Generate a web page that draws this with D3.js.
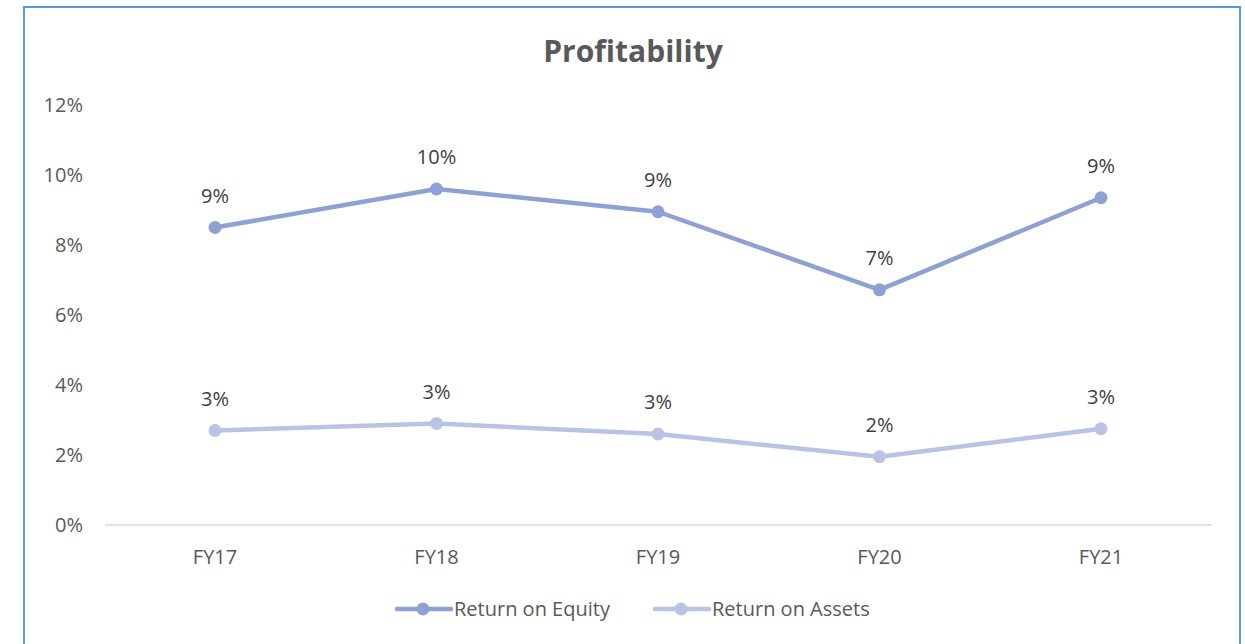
<!DOCTYPE html>
<html>
<head>
<meta charset="utf-8">
<script src="https://cdn.jsdelivr.net/npm/d3@7.9.0/dist/d3.min.js"></script>
<style>
  body { margin: 0; background: #fff; }
  svg { display: block; font-family: "Open Sans", "Noto Sans", sans-serif; }
</style>
</head>
<body>
<svg id="chart" width="1245" height="644"></svg>
<script>
// Chart data
const years = ['FY17', 'FY18', 'FY19', 'FY20', 'FY21'];
const roe = [8.5, 9.6, 8.95, 6.72, 9.35];
const roa = [2.7, 2.9, 2.6, 1.95, 2.75];
const roeLabels = ['9%', '10%', '9%', '7%', '9%'];
const roaLabels = ['3%', '3%', '3%', '2%', '3%'];
const yTicks = [0, 2, 4, 6, 8, 10, 12];

const series = [
  { name: 'Return on Equity', values: roe, labels: roeLabels, color: '#8ea1d4' },
  { name: 'Return on Assets', values: roa, labels: roaLabels, color: '#b9c3e3' }
];

const fontSize = 20;

const svg = d3.select('#chart');

// Outer frame
svg.append('rect')
  .attr('x', 24).attr('y', 7)
  .attr('width', 1216).attr('height', 660)
  .attr('fill', 'none')
  .attr('stroke', '#5b9bd5')
  .attr('stroke-width', 2);

// Title
svg.append('text')
  .attr('x', 633).attr('y', 62)
  .attr('text-anchor', 'middle')
  .attr('font-size', 30)
  .attr('font-weight', 'bold')
  .attr('fill', '#595959')
  .text('Profitability');

const x = d3.scalePoint().domain(years).range([215, 1101]);
const y = d3.scaleLinear().domain([0, 12]).range([525, 105]);

// Y tick labels
svg.append('g')
  .selectAll('text')
  .data(yTicks)
  .join('text')
  .attr('x', 83)
  .attr('y', d => y(d) + 7)
  .attr('text-anchor', 'end')
  .attr('font-size', fontSize)
  .attr('fill', '#595959')
  .text(d => d + '%');

// Baseline
svg.append('line')
  .attr('x1', 105).attr('x2', 1212)
  .attr('y1', y(0)).attr('y2', y(0))
  .attr('stroke', '#d9d9d9')
  .attr('stroke-width', 1.5);

// X labels
svg.append('g')
  .selectAll('text')
  .data(years)
  .join('text')
  .attr('x', d => x(d))
  .attr('y', 564)
  .attr('text-anchor', 'middle')
  .attr('font-size', fontSize)
  .attr('fill', '#595959')
  .text(d => d);

const line = d3.line()
  .x((d, i) => x(years[i]))
  .y(d => y(d));

series.forEach(s => {
  const g = svg.append('g');
  g.append('path')
    .attr('d', line(s.values))
    .attr('fill', 'none')
    .attr('stroke', s.color)
    .attr('stroke-width', 4.5)
    .attr('stroke-linecap', 'round')
    .attr('stroke-linejoin', 'round');

  g.selectAll('circle')
    .data(s.values)
    .join('circle')
    .attr('cx', (d, i) => x(years[i]))
    .attr('cy', d => y(d))
    .attr('r', 6.5)
    .attr('fill', s.color);

  g.selectAll('text')
    .data(s.values)
    .join('text')
    .attr('x', (d, i) => x(years[i]))
    .attr('y', d => y(d) - 25)
    .attr('text-anchor', 'middle')
    .attr('font-size', fontSize)
    .attr('fill', '#404040')
    .text((d, i) => s.labels[i]);
});

// Legend
const legendX = [395, 653];
series.forEach((s, i) => {
  const lg = svg.append('g').attr('transform', `translate(${legendX[i]},609)`);
  lg.append('line')
    .attr('x1', 2).attr('x2', 56)
    .attr('stroke', s.color)
    .attr('stroke-width', 4.5)
    .attr('stroke-linecap', 'round');
  lg.append('circle')
    .attr('cx', 28).attr('r', 6.5)
    .attr('fill', s.color);
  lg.append('text')
    .attr('x', 59).attr('y', 7)
    .attr('font-size', fontSize)
    .attr('fill', '#595959')
    .text(s.name);
});
</script>
</body>
</html>
